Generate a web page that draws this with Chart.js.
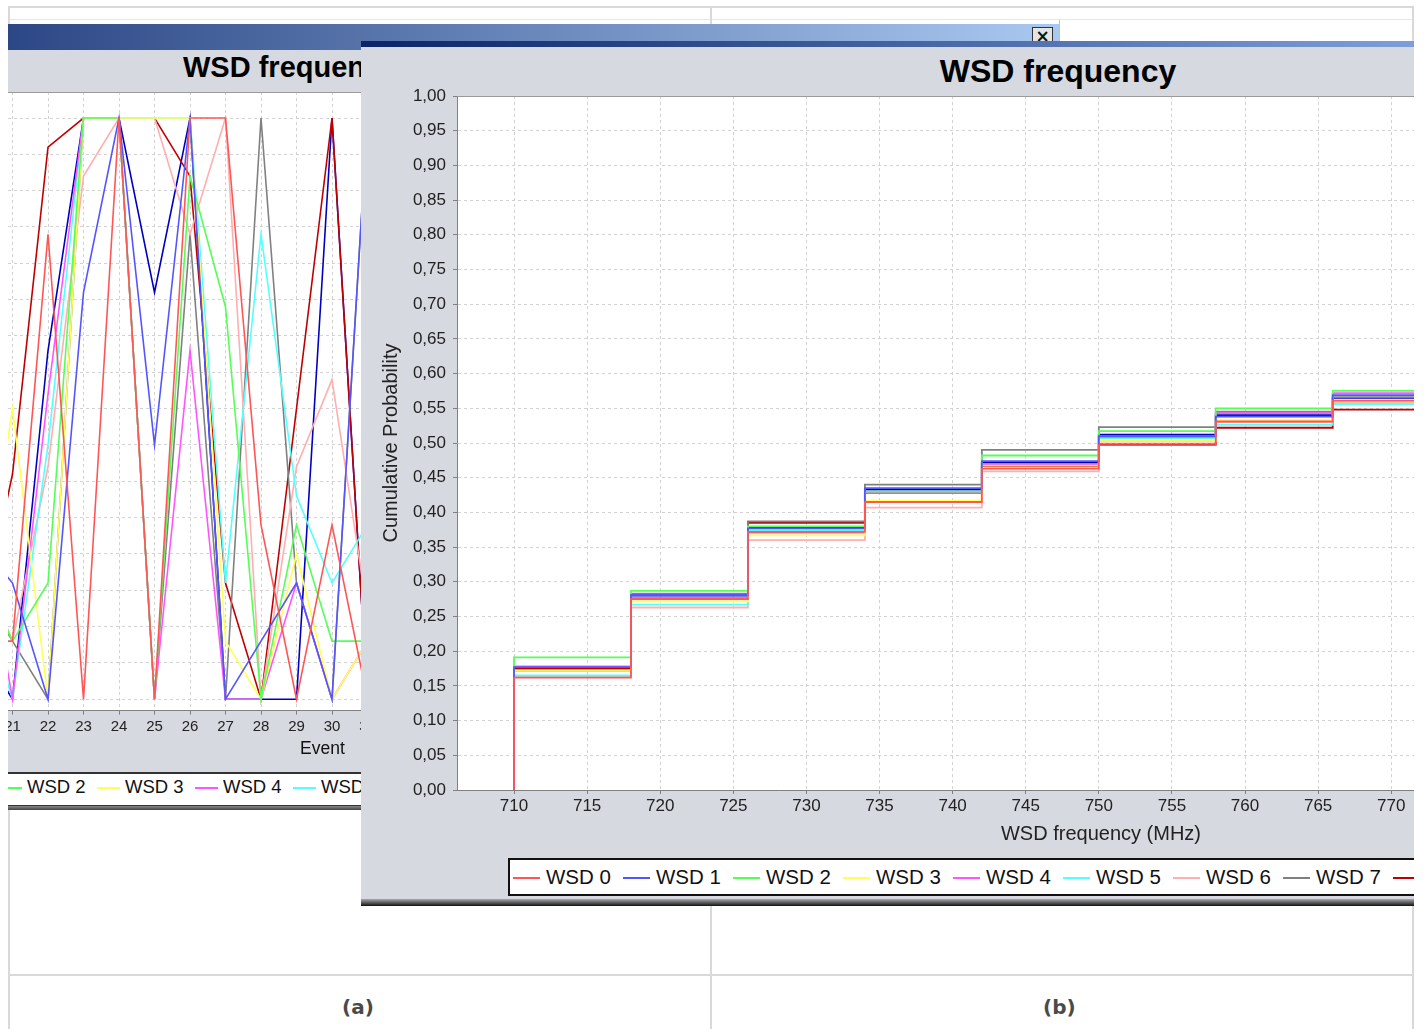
<!DOCTYPE html>
<html>
<head>
<meta charset="utf-8">
<script src="https://cdn.jsdelivr.net/npm/chart.js@4.4.1/dist/chart.umd.min.js"></script>
<style>
  body { margin: 0; background: #fff; width: 1424px; height: 1029px; overflow: hidden; position: relative;
         font-family: "Liberation Sans", Arial, sans-serif; }
  .abs { position: absolute; }
  .ln { position: absolute; background: #d9d9d9; }
  .win { position: absolute; overflow: hidden; background: #d6d9df; }
  .leg-line { position: absolute; height: 2px; }
  .leg-txt { position: absolute; line-height: 1; white-space: nowrap; color: #111; }
  .cap { position: absolute; font-family: "DejaVu Sans", sans-serif; font-weight: bold; font-size: 20px; color: #4a4a4a; }
</style>
</head>
<body>
<!-- page frame -->
<div class="ln" style="left:8px;top:6px;width:1406px;height:2px"></div>
<div class="ln" style="left:8px;top:19px;width:1406px;height:1px;background:#e6e6e6"></div>
<div class="ln" style="left:8px;top:6px;width:2px;height:1023px"></div>
<div class="ln" style="left:1412px;top:6px;width:2px;height:1023px"></div>
<div class="ln" style="left:710px;top:6px;width:2px;height:1023px"></div>
<div class="ln" style="left:8px;top:974px;width:1406px;height:2px"></div>
<div class="cap" style="left:342px;top:995px">(a)</div>
<div class="cap" style="left:1043px;top:995px">(b)</div>

<!-- window (a) -->
<div class="abs" style="left:8px;top:24px;width:1052px;height:26px;background:linear-gradient(to right,#2c4785,#a9c9f1)"></div>
<div class="abs" style="left:1059px;top:20px;width:1px;height:24px;background:#c0c0c0"></div>
<div class="abs" style="left:1032px;top:27px;width:19px;height:16px;background:#e4e4e4;border:1px solid #333;font:bold 17px/16px 'DejaVu Sans',sans-serif;text-align:center;color:#111">&#215;</div>
<div class="win" id="panelA" style="left:8px;top:50px;width:353px;height:760px">
  <div class="abs" style="left:175px;top:3px;font-weight:bold;font-size:29px;line-height:1;white-space:nowrap;color:#000">WSD frequency</div>
  <canvas id="chartA" class="abs" width="435" height="700" style="left:-20px;top:0"></canvas>
  <div class="abs" style="left:292px;top:690px;font-size:17.5px;line-height:1;color:#111">Event</div>
  <div class="abs" id="legA" style="left:0;top:722px;width:353px;height:31px;background:#fff;border-top:2px solid #333;border-bottom:2px solid #333"></div>
  <div class="abs" style="left:0;top:756px;width:353px;height:4px;background:linear-gradient(#888,#444)"></div>
</div>

<!-- window (b) -->
<div class="win" id="panelB" style="left:361px;top:41px;width:1053px;height:865px">
  <div class="abs" style="left:0;top:0;width:1053px;height:6px;background:linear-gradient(to right,#0b2466,#7c9fd9)"></div>
  <div class="abs" style="left:0;top:14px;width:1394px;text-align:center;font-weight:bold;font-size:32px;line-height:1;color:#000">WSD frequency</div>
  <canvas id="chartB" class="abs" width="1394" height="810" style="left:0;top:6px"></canvas>
  <div class="abs" id="legB" style="left:147px;top:817px;width:1096px;height:34px;background:#fff;border:2px solid #111"></div>
  <div class="abs" style="left:0;top:858px;width:1053px;height:7px;background:linear-gradient(#aaa,#111)"></div>
</div>

<script>
const seriesNames = ['WSD 0', 'WSD 1', 'WSD 2', 'WSD 3', 'WSD 4', 'WSD 5', 'WSD 6', 'WSD 7', 'WSD 8', 'WSD 9'];
const seriesColors = ['#ff5555', '#5555ff', '#55ff55', '#ffff55', '#ff55ff', '#55ffff', '#ffafaf', '#808080', '#c00000', '#0000c0'];

// (a) channel frequency (MHz) per event
const events = [20, 21, 22, 23, 24, 25, 26, 27, 28, 29, 30, 31];
const evWsd0 = [718, 718, 774, 710, 790, 710, 790, 790, 734, 710, 734, 710];
const evWsd1 = [732, 726, 710, 766, 790, 745, 790, 710, 718, 726, 710, 790];
const evWsd2 = [729, 718, 726, 790, 790, 710, 782, 764, 710, 734, 718, 718];
const evWsd3 = [718, 750, 710, 790, 790, 790, 790, 718, 710, 730, 710, 718];
const evWsd4 = [738, 710, 752, 790, 790, 710, 758, 710, 710, 726, 710, 718];
const evWsd5 = [726, 710, 745, 790, 790, 790, 790, 726, 774, 738, 726, 734];
const evWsd6 = [730, 718, 742, 782, 790, 790, 774, 790, 710, 742, 754, 722];
const evWsd7 = [726, 718, 710, 790, 790, 710, 774, 710, 790, 726, 710, 790];
const evWsd8 = [718, 741, 786, 790, 790, 790, 782, 726, 710, 750, 790, 710];
const evWsd9 = [718, 710, 758, 790, 790, 766, 790, 710, 710, 710, 790, 710];
const eventSeries = [evWsd0, evWsd1, evWsd2, evWsd3, evWsd4, evWsd5, evWsd6, evWsd7, evWsd8, evWsd9];

// (b) cumulative probability at each channel frequency
const freqSteps = [710, 718, 726, 734, 742, 750, 758, 766, 774, 782, 790];
const cdfWsd0 = [0.162, 0.275, 0.372, 0.415, 0.463, 0.497, 0.531, 0.561, 0.62, 0.69, 1.00];
const cdfWsd1 = [0.177, 0.281, 0.377, 0.435, 0.474, 0.510, 0.538, 0.569, 0.63, 0.70, 1.00];
const cdfWsd2 = [0.191, 0.287, 0.380, 0.430, 0.482, 0.517, 0.550, 0.575, 0.64, 0.71, 1.00];
const cdfWsd3 = [0.172, 0.272, 0.367, 0.417, 0.465, 0.503, 0.533, 0.560, 0.62, 0.69, 1.00];
const cdfWsd4 = [0.178, 0.276, 0.371, 0.428, 0.470, 0.509, 0.543, 0.572, 0.63, 0.70, 1.00];
const cdfWsd5 = [0.165, 0.267, 0.374, 0.430, 0.468, 0.507, 0.526, 0.556, 0.62, 0.69, 1.00];
const cdfWsd6 = [0.163, 0.263, 0.360, 0.407, 0.459, 0.502, 0.530, 0.558, 0.62, 0.68, 1.00];
const cdfWsd7 = [0.172, 0.283, 0.387, 0.440, 0.490, 0.523, 0.545, 0.566, 0.63, 0.70, 1.00];
const cdfWsd8 = [0.175, 0.276, 0.385, 0.428, 0.466, 0.498, 0.522, 0.548, 0.61, 0.68, 1.00];
const cdfWsd9 = [0.176, 0.280, 0.378, 0.433, 0.472, 0.512, 0.540, 0.565, 0.63, 0.70, 1.00];
const cdfSeries = [cdfWsd0, cdfWsd1, cdfWsd2, cdfWsd3, cdfWsd4, cdfWsd5, cdfWsd6, cdfWsd7, cdfWsd8, cdfWsd9];

Chart.defaults.font.family = '"Liberation Sans", Arial, sans-serif';
Chart.defaults.animation = false;

// white plot background and gray outline, like the Java chart
const plotFrame = {
  id: 'plotFrame',
  beforeDraw(chart) {
    const a = chart.chartArea, ctx = chart.ctx;
    ctx.save();
    ctx.fillStyle = '#fff';
    ctx.fillRect(a.left, a.top, a.width, a.height);
    ctx.restore();
  },
  beforeDatasetsDraw(chart) {
    const a = chart.chartArea, ctx = chart.ctx;
    ctx.save();
    ctx.strokeStyle = '#9a9a9a';
    ctx.lineWidth = 1;
    ctx.beginPath();
    ctx.moveTo(a.left, a.top + 0.5);
    ctx.lineTo(a.right, a.top + 0.5);
    ctx.stroke();
    ctx.restore();
  }
};

const gridColor = '#d2d2d2';
const gridDash = [3, 3];

new Chart(document.getElementById('chartA'), {
  type: 'line',
  data: {
    datasets: eventSeries.map((vals, i) => ({
      label: seriesNames[i],
      data: events.map((e, j) => ({ x: e, y: vals[j] })),
      borderColor: seriesColors[i],
      borderWidth: 1.6,
      pointRadius: 0,
      tension: 0
    }))
  },
  options: {
    responsive: false,
    layout: { padding: { left: 20, right: 20, top: 42, bottom: 9.4 } },
    plugins: { legend: { display: false }, tooltip: { enabled: false } },
    scales: {
      x: {
        type: 'linear', min: 20.873, max: 32,
        ticks: { stepSize: 1, includeBounds: false, font: { size: 15 }, color: '#222', padding: 3, maxRotation: 0, autoSkip: false },
        grid: { color: gridColor, tickLength: 4, tickColor: '#808080' },
        border: { color: '#808080', dash: gridDash },
        afterFit(s) { s.height = 30; }
      },
      y: {
        min: 708.44, max: 793.58,
        ticks: { display: false, stepSize: 5, includeBounds: false },
        grid: { color: gridColor, drawTicks: false },
        border: { display: false, dash: gridDash },
        afterFit(s) { s.width = 0; }
      }
    }
  },
  plugins: [plotFrame]
});

new Chart(document.getElementById('chartB'), {
  type: 'line',
  data: {
    datasets: cdfSeries.map((levels, i) => ({
      label: seriesNames[i],
      data: [{ x: freqSteps[0], y: 0 }].concat(freqSteps.map((f, j) => ({ x: f, y: levels[j] }))),
      borderColor: seriesColors[i],
      borderWidth: 1.8,
      pointRadius: 0,
      stepped: true
    }))
  },
  options: {
    responsive: false,
    layout: { padding: { left: 0, right: 10, top: 49, bottom: 7 } },
    plugins: { legend: { display: false }, tooltip: { enabled: false } },
    scales: {
      x: {
        type: 'linear', min: 706.1, max: 794.2,
        ticks: { stepSize: 5, includeBounds: false, font: { size: 17 }, color: '#222', padding: 2, maxRotation: 0, autoSkip: false },
        grid: { color: gridColor, tickLength: 4, tickColor: '#808080' },
        border: { color: '#808080', dash: gridDash },
        title: { display: true, text: 'WSD frequency (MHz)', font: { size: 20 }, color: '#222', padding: { top: 0, bottom: 4 } },
        afterFit(s) { s.height = 60; }
      },
      y: {
        min: 0, max: 1,
        ticks: { stepSize: 0.05, includeBounds: false, font: { size: 17 }, color: '#222', padding: 7,
                 callback: v => v.toFixed(2).replace('.', ',') },
        grid: { color: gridColor, tickLength: 4, tickColor: '#808080' },
        border: { color: '#808080', dash: gridDash },
        title: { display: true, text: 'Cumulative Probability', font: { size: 20 }, color: '#222', padding: { top: 18, bottom: 0 } },
        afterFit(s) { s.width = 96; }
      }
    }
  },
  plugins: [plotFrame]
});

// legends, built from the same names and colours
function buildLegend(el, firstLine, step, lineLen, gap, fontSize, top) {
  seriesNames.forEach((name, i) => {
    const x = firstLine + step * i;
    const l = document.createElement('div');
    l.className = 'leg-line';
    l.style.cssText = `left:${x}px;top:${top}px;width:${lineLen}px;background:${seriesColors[i]}`;
    el.appendChild(l);
    const t = document.createElement('div');
    t.className = 'leg-txt';
    t.textContent = name;
    t.style.cssText = `left:${x + lineLen + gap}px;top:${top - fontSize / 2}px;font-size:${fontSize}px`;
    el.appendChild(t);
  });
}
// (a): WSD 2 line starts at page x -1 -> legA x -9; item spacing 98
buildLegend(document.getElementById('legA'), -9 - 2 * 98, 98, 23, 5, 18.5, 13);
// (b): first line at page x 513 -> inside box x 3
buildLegend(document.getElementById('legB'), 3, 110, 27, 6, 20.5, 17);
</script>
</body>
</html>
